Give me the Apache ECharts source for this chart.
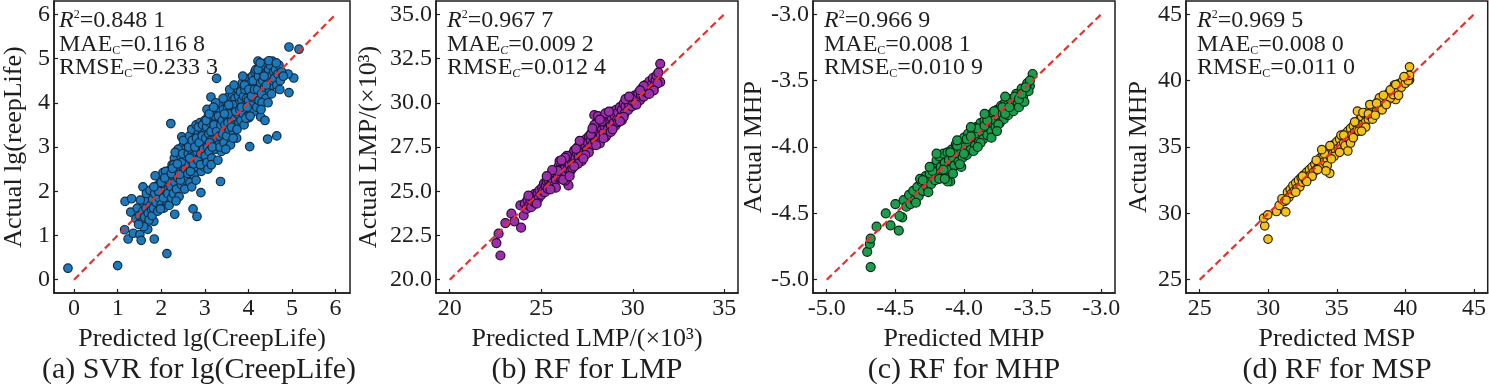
<!DOCTYPE html>
<html><head><meta charset="utf-8">
<script src="https://cdn.jsdelivr.net/npm/echarts@6/dist/echarts.min.js"></script>
<style>html,body{margin:0;padding:0;background:#fff}#c{width:1489px;height:389px}</style>
</head><body><div id="c"></div>
<script>
// ---------- data: [predicted, actual] ----------
const svrCreepLife = [
[-0.14,0.26],[1.0,0.32],[2.13,0.59],[1.17,1.77],[1.32,1.83],[1.30,1.53],[1.58,2.1],[1.16,1.13],[1.24,0.92],[1.36,1.05],[1.51,1.02],[1.54,0.89],[1.84,0.92],[1.69,1.14],[1.83,1.32],[2.31,1.48],[2.73,1.6],[2.82,1.43],[2.91,1.97],[3.36,2.22],[2.22,3.53],[2.47,3.23],[3.14,4.13],[3.27,4.55],[4.03,3.01],[4.44,3.18],[4.65,3.25],[4.93,4.23],[4.93,5.26],[5.16,5.21],[5.04,4.56],[4.91,4.65],[4.22,4.94],[4.55,4.94],[4.38,4.89],[4.28,3.68],[4.38,3.6],[4.01,3.66],[3.97,3.83],[4.25,3.91],
[1.42,1.38],[1.45,1.62],[1.5,1.45],[1.55,1.3],[1.58,1.55],[1.6,1.72],[1.62,1.42],[1.65,1.62],[1.68,1.78],[1.7,1.5],[1.72,1.35],[1.75,1.68],[1.78,1.58],[1.8,1.82],[1.6,1.2],[1.52,1.8],[1.48,1.25],[1.66,1.95],[1.74,2.02],[1.79,1.45],
[1.82,1.62],[1.85,1.95],[1.88,1.75],[1.9,2.12],[1.92,1.55],[1.95,1.85],[1.97,2.3],[2.0,1.7],[2.02,2.0],[2.04,2.42],[2.06,1.62],[2.08,1.9],[2.1,2.2],[2.12,1.78],[2.14,2.35],[2.16,2.05],[2.18,1.68],[2.2,2.48],[1.86,2.35],[1.94,2.0],[2.0,2.2],[2.1,2.45],[2.05,1.85],[2.15,1.95],[2.19,2.25],[1.83,2.1],[1.98,1.6],[2.08,2.3],
[2.22,2.1],[2.24,1.85],[2.25,2.6],[2.27,2.35],[2.28,1.95],[2.3,2.75],[2.31,2.2],[2.33,2.48],[2.35,2.05],[2.36,2.9],[2.38,2.3],[2.4,2.62],[2.41,1.88],[2.43,2.45],[2.45,2.8],[2.46,2.15],[2.48,3.0],[2.5,2.55],[2.52,2.35],[2.53,2.72],[2.55,2.95],[2.57,2.25],[2.58,2.6],[2.6,3.1],[2.23,2.4],[2.29,2.6],[2.34,1.78],[2.39,2.95],[2.44,2.25],[2.47,2.65],[2.51,3.15],[2.54,2.05],[2.56,2.8],[2.59,2.42],[2.26,2.52],[2.32,2.88],[2.37,2.62],[2.42,2.38],[2.49,2.85],[2.55,2.5],
[2.61,2.4],[2.62,2.85],[2.64,2.6],[2.65,3.25],[2.66,2.2],[2.68,2.95],[2.69,2.7],[2.7,3.4],[2.72,2.5],[2.73,3.05],[2.75,2.8],[2.76,2.35],[2.78,3.2],[2.79,2.65],[2.8,3.5],[2.82,2.9],[2.83,2.55],[2.85,3.3],[2.86,3.0],[2.88,2.75],[2.89,3.55],[2.9,3.15],[2.92,2.45],[2.93,2.9],[2.95,3.35],[2.96,2.7],[2.98,3.1],[3.0,3.6],[2.63,3.0],[2.67,2.45],[2.71,3.15],[2.74,2.62],[2.77,3.0],[2.81,3.2],[2.84,2.7],[2.87,3.1],[2.91,2.85],[2.94,3.25],[2.97,2.95],[2.99,2.55],[2.7,2.1],[2.8,2.25],[2.9,2.6],[2.65,2.75],[2.85,3.45],[2.95,3.5],
[3.01,2.8],[3.02,3.2],[3.04,3.45],[3.05,2.65],[3.06,3.0],[3.08,3.7],[3.09,3.3],[3.1,2.9],[3.12,3.55],[3.13,3.15],[3.15,3.85],[3.16,2.75],[3.18,3.4],[3.19,3.65],[3.2,3.05],[3.22,3.75],[3.23,3.3],[3.25,2.95],[3.26,3.6],[3.28,3.9],[3.29,3.2],[3.3,3.5],[3.32,3.05],[3.33,3.8],[3.35,3.4],[3.36,3.65],[3.38,2.9],[3.39,3.95],[3.03,3.6],[3.07,2.5],[3.11,3.1],[3.14,3.35],[3.17,3.0],[3.21,3.5],[3.24,3.7],[3.27,3.35],[3.31,3.7],[3.34,3.25],[3.37,3.5],[3.05,3.85],[3.15,2.6],[3.25,4.0],[3.35,3.0],[3.1,3.75],[3.2,3.9],[3.3,2.7],
[3.4,3.6],[3.41,3.3],[3.43,3.85],[3.44,3.1],[3.46,3.5],[3.47,4.05],[3.49,3.7],[3.5,3.25],[3.52,3.9],[3.53,3.55],[3.55,4.15],[3.56,3.4],[3.58,3.75],[3.59,3.05],[3.6,4.0],[3.62,3.6],[3.63,4.2],[3.65,3.35],[3.66,3.85],[3.68,3.65],[3.69,4.1],[3.7,3.5],[3.72,3.95],[3.73,3.2],[3.75,3.75],[3.76,4.3],[3.78,3.55],[3.79,4.0],[3.42,4.1],[3.48,2.95],[3.54,3.75],[3.57,4.3],[3.61,3.45],[3.64,3.95],[3.67,4.4],[3.71,3.8],[3.74,3.4],[3.77,4.15],[3.45,3.75],[3.65,3.2],[3.55,3.95],
[3.8,3.85],[3.82,4.25],[3.83,3.6],[3.85,4.05],[3.86,4.45],[3.88,3.75],[3.89,4.15],[3.9,3.5],[3.92,4.3],[3.93,3.95],[3.95,4.5],[3.96,4.1],[3.98,3.7],[3.99,4.35],[4.0,4.05],[4.02,4.55],[4.03,3.85],[4.05,4.25],[4.06,4.45],[4.08,3.95],[4.09,4.6],[4.1,4.2],[4.12,3.8],[4.13,4.4],[4.15,4.7],[4.16,4.1],[4.18,4.5],[4.19,3.9],[3.84,3.9],[3.91,4.4],[3.97,3.9],[4.01,4.3],[4.07,4.15],[4.11,4.5],[4.14,4.3],[4.17,4.75],[3.87,4.6],[3.94,3.65],[4.04,3.7],
[4.21,4.3],[4.23,4.6],[4.24,4.05],[4.26,4.8],[4.28,4.45],[4.3,4.2],[4.32,4.7],[4.33,4.5],[4.35,4.85],[4.37,4.35],[4.38,4.65],[4.4,4.1],[4.42,4.9],[4.44,4.55],[4.46,4.75],[4.48,4.3],[4.5,4.85],[4.52,4.6],[4.55,4.4],[4.58,4.7],[4.22,4.75],[4.27,4.9],[4.31,4.0],[4.36,4.6],[4.41,4.4],[4.47,4.95],[4.53,4.2],[4.57,4.5],[4.29,3.85],[4.45,4.0],
[4.6,4.55],[4.62,4.75],[4.65,4.4],[4.68,4.65],[4.7,4.85],[4.73,4.5],[4.76,4.7],[4.8,4.6],[4.64,4.9],[4.72,4.3]
];
const rfLMP = [
[22.55,22.07],[22.67,22.6],[22.77,21.37],[23.04,23.2],[23.37,23.73],[23.53,23.3],[23.9,22.94],[24.04,23.63],[23.86,24.2],[26.49,25.33],[31.5,32.2],[31.5,31.17],[26.3,25.6],[27.9,29.3],
[24.1,24.3],[24.2,24.0],[24.25,24.5],[24.35,24.2],[24.4,24.55],[24.45,24.1],[24.5,24.7],[24.6,24.4],[24.65,24.85],[24.7,24.5],[24.8,24.9],[24.85,24.6],[24.9,25.05],[25.0,24.8],[25.05,25.2],[25.1,25.0],[25.15,25.45],[25.2,24.95],[25.25,25.3],[25.3,25.55],[25.35,25.15],[25.4,25.6],[25.45,25.3],[25.5,25.75],[25.55,25.4],[25.6,25.9],[25.65,25.55],[25.7,25.3],[25.75,26.0],[25.8,25.65],[25.85,26.2],[25.9,25.8],[25.95,26.4],[26.0,25.95],[26.05,26.3],[26.1,25.7],[26.15,26.55],[26.2,26.1],[26.25,26.8],[26.3,26.35],[26.35,26.0],[26.4,26.6],[26.45,26.25],[26.5,26.9],[26.55,26.5],[26.6,26.15],[26.65,26.75],[26.7,27.1],[26.75,26.55],[26.8,27.3],[26.85,26.9],[26.9,26.6],[26.95,27.15],[27.0,27.5],[27.05,26.95],[27.1,27.3],[27.15,27.65],[27.2,27.05],[27.25,27.45],[27.3,27.8],[27.35,27.2],[27.4,27.6],[27.45,27.95],[27.5,27.35],[27.55,27.75],[27.6,28.1],[27.65,27.5],[27.7,27.9],[27.75,28.3],[27.8,27.65],[27.85,28.05],[27.9,28.45],[27.95,27.8],[28.0,28.2],[28.05,28.6],[28.1,27.95],[28.15,28.4],[28.2,28.8],[28.25,28.15],[28.3,28.55],[28.35,28.9],[28.4,28.3],[28.45,28.7],[28.5,28.05],[28.55,28.85],[28.6,29.1],[28.65,28.5],[28.7,28.95],[28.75,29.3],[28.8,28.7],[28.85,29.15],[28.9,29.5],[28.95,28.85],[29.0,29.3],[29.1,29.6],[29.15,29.05],[29.2,29.45],[29.3,29.75],[29.35,29.2],[29.4,29.6],[29.5,29.95],[29.55,29.4],[29.6,29.8],[29.7,30.1],[29.75,29.6],[29.8,29.95],[29.9,30.25],[29.95,29.8],[30.0,30.1],[30.1,30.4],[30.15,29.95],[30.2,30.3],[30.3,30.55],[30.4,30.15],[30.45,30.45],[30.5,30.8],[30.6,30.35],[30.65,30.65],[30.7,31.0],[30.8,30.55],[30.85,30.85],[30.9,31.2],[31.0,30.8],[31.05,31.05],[31.1,31.4],[31.2,31.0],[31.25,31.25],[31.3,31.55],[31.35,31.1],[31.4,31.7],
[25.8,25.2],[26.2,25.65],[26.0,26.7],[26.4,27.0],[27.2,26.7],[27.6,27.2],[27.0,26.55],[27.9,28.75],[28.2,27.7],[28.6,28.2],[28.1,29.25],[29.05,28.7],[29.4,29.0],[28.5,29.4],[29.6,30.2],[30.2,29.9],[30.6,30.95],[25.5,25.1],[24.75,24.3],[24.3,24.75],[26.7,26.3],[27.4,27.05],[28.8,28.35],[29.2,28.9],[29.8,30.35],[30.4,30.7],[31.15,30.7],[30.9,30.5],[26.9,27.4],[27.7,28.2],[28.3,28.95],[28.0,27.6],[28.9,28.5],[29.5,29.2],[25.9,26.15],[26.3,26.9],
[25.6,26.2],[26.1,26.75],[26.55,25.85],[27.3,26.85],[27.1,27.85],[28.4,28.0],[28.7,29.5],[29.3,28.95],[28.2,29.05],[26.8,26.4],[25.3,25.85],[27.8,28.55]
];
const rfMHP = [
[-4.68,-4.905],[-4.705,-4.79],[-4.686,-4.73],[-4.68,-4.69],[-4.637,-4.6],[-4.57,-4.5],[-4.535,-4.59],[-4.5,-4.43],[-4.475,-4.63],[-4.45,-4.53],[-4.47,-4.52],[-3.5,-3.45],[-3.52,-3.54],[-4.1,-4.26],
[-4.44,-4.4],[-4.42,-4.45],[-4.4,-4.36],[-4.39,-4.43],[-4.37,-4.33],[-4.36,-4.4],[-4.34,-4.3],[-4.33,-4.37],[-4.31,-4.26],[-4.3,-4.33],[-4.28,-4.22],[-4.27,-4.3],[-4.25,-4.2],[-4.24,-4.28],[-4.22,-4.15],[-4.21,-4.25],[-4.2,-4.1],[-4.19,-4.2],[-4.18,-4.07],[-4.17,-4.15],[-4.16,-4.22],[-4.15,-4.05],[-4.14,-4.12],[-4.13,-4.2],[-4.12,-4.04],[-4.11,-4.1],[-4.1,-4.17],[-4.09,-4.02],[-4.08,-4.08],[-4.07,-4.14],[-4.06,-3.98],[-4.05,-4.05],[-4.04,-4.11],[-4.03,-3.96],[-4.02,-4.02],[-4.01,-4.08],[-4.0,-3.93],[-3.99,-4.0],[-3.98,-4.06],[-3.97,-3.9],[-3.96,-3.97],[-3.95,-4.02],[-3.94,-3.88],[-3.93,-3.94],[-3.92,-3.99],[-3.91,-3.85],[-3.9,-3.92],[-3.89,-3.96],[-3.88,-3.82],[-3.87,-3.89],[-3.86,-3.94],[-3.85,-3.8],[-3.84,-3.86],[-3.83,-3.91],[-3.82,-3.76],[-3.81,-3.83],[-3.8,-3.88],[-3.79,-3.74],[-3.78,-3.8],[-3.77,-3.85],[-3.76,-3.72],[-3.75,-3.77],[-3.74,-3.82],[-3.73,-3.69],[-3.72,-3.75],[-3.71,-3.79],[-3.7,-3.66],[-3.69,-3.72],[-3.68,-3.76],[-3.66,-3.64],[-3.65,-3.69],[-3.64,-3.73],[-3.62,-3.6],[-3.61,-3.66],[-3.6,-3.7],[-3.58,-3.56],[-3.57,-3.62],[-3.56,-3.66],[-3.54,-3.52],[-3.53,-3.58],[-3.52,-3.5],
[-4.35,-4.42],[-4.32,-4.24],[-4.26,-4.34],[-4.23,-4.18],[-4.18,-4.24],[-4.15,-4.17],[-4.12,-4.26],[-4.1,-4.04],[-4.08,-4.2],[-4.05,-3.99],[-4.02,-4.15],[-4.0,-4.05],[-3.98,-3.94],[-3.95,-3.92],[-3.93,-4.03],[-3.9,-3.86],[-3.88,-3.97],[-3.85,-3.84],[-3.83,-3.8],[-3.8,-3.93],[-3.78,-3.73],[-3.75,-3.83],[-3.72,-3.7],[-3.7,-3.75],[-3.67,-3.7],[-3.63,-3.62],[-3.6,-3.64],[-3.58,-3.6],[-3.55,-3.55],[-3.85,-3.75],[-3.95,-3.85],[-4.05,-3.95],[-4.2,-4.05],[-4.25,-4.15],[-4.3,-4.25],[-3.7,-3.62],[-3.76,-3.88],[-3.9,-4.0],[-4.14,-4.24],[-4.03,-4.13]
];
const rfMSP = [
[29.98,28.06],[29.74,29.06],[29.66,29.64],[29.96,29.89],[30.6,30.14],[31.27,30.11],[34.48,33.02],[40.3,41.04],[40.3,40.04],[39.29,38.58],[39.2,39.67],
[30.8,30.6],[31.0,31.1],[31.2,30.9],[31.4,31.6],[31.5,31.2],[31.6,31.8],[31.7,31.5],[31.8,32.1],[31.9,31.7],[32.0,32.3],[32.1,31.9],[32.2,32.5],[32.3,32.0],[32.4,32.7],[32.5,32.35],[32.6,32.9],[32.7,32.5],[32.8,33.1],[32.9,32.7],[33.0,33.3],[33.1,32.9],[33.2,33.5],[33.3,33.1],[33.4,33.7],[33.5,33.3],[33.6,33.9],[33.7,33.5],[33.8,34.2],[33.9,33.7],[34.0,34.4],[34.1,33.9],[34.2,34.6],[34.3,34.1],[34.4,34.8],[34.5,34.3],[34.6,34.95],[34.7,34.5],[34.8,35.2],[34.9,34.7],[35.0,35.4],[35.1,34.9],[35.2,35.6],[35.3,35.1],[35.4,35.8],[35.5,35.3],[35.6,36.0],[35.7,35.5],[35.8,36.2],[35.9,35.7],[36.0,36.4],[36.1,35.9],[36.2,36.6],[36.3,36.1],[36.4,36.8],[36.5,36.3],[36.6,37.0],[36.7,36.5],[36.8,37.3],[36.9,36.7],[37.0,37.5],[37.1,36.9],[37.2,37.6],[37.3,37.1],[37.4,37.8],[37.5,37.3],[37.6,38.0],[37.7,37.5],[37.8,38.2],[37.9,37.7],[38.0,38.4],[38.1,37.9],[38.2,38.6],[38.3,38.1],[38.4,38.7],[38.5,38.3],[38.6,38.9],[38.7,38.5],[38.8,39.1],[38.9,38.7],[39.0,39.3],[39.1,38.95],[39.2,39.5],[39.4,39.2],[39.5,39.75],[39.7,39.5],[39.8,40.0],[40.0,39.8],[40.1,40.2],[40.2,40.0],[40.3,40.4],
[31.3,31.0],[32.0,31.6],[32.5,32.8],[33.2,32.8],[33.5,34.0],[34.1,34.5],[34.3,33.6],[34.2,33.2],[34.8,34.3],[35.3,35.9],[35.6,35.1],[35.8,34.7],[36.0,35.3],[36.3,36.9],[36.5,37.7],[36.2,35.7],[36.9,37.6],[37.1,36.5],[37.4,38.2],[37.6,37.1],[38.1,38.7],[38.3,37.8],[38.6,38.2],[38.9,39.3],[39.3,39.7],[39.5,38.9],[39.9,40.3],[33.9,34.8],[34.5,35.1],[35.2,34.6],[35.5,35.9],[36.6,36.2],[37.3,37.5],[37.8,37.4],[38.4,38.9],[32.8,32.4],[33.6,33.3],[34.6,34.1],[36.8,36.2],[37.9,38.3]
];
// reference (identity) lines
const diagA = [0, 6], diagB = [20, 35], diagC = [-5, -3], diagD = [25, 45];
// tick labels
const ticksA = [0, 1, 2, 3, 4, 5, 6];
const ticksB = [20, 25, 30, 35];
const ticksBy = [20, 22.5, 25, 27.5, 30, 32.5, 35];
const ticksC = [-5, -4.5, -4, -3.5, -3];
const ticksD = [25, 30, 35, 40, 45];
const metrics = [
  ['0.848 1', '0.116 8', '0.233 3'],
  ['0.967 7', '0.009 2', '0.012 4'],
  ['0.966 9', '0.008 1', '0.010 9'],
  ['0.969 5', '0.008 0', '0.011 0']
];
const titles = ['(a) SVR for lg(CreepLife)', '(b) RF for LMP', '(c) RF for MHP', '(d) RF for MSP'];
const xNames = ['Predicted lg(CreepLife)', 'Predicted LMP/(×10³)', 'Predicted MHP', 'Predicted MSP'];
const yNames = ['Actual lg(reepLife)', 'Actual LMP/(×10³)', 'Actual MHP', 'Actual MHP'];

// ---------- layout / style ----------
const F = "'Liberation Serif','Times New Roman',serif";
const INK = '#1e1e1e';
const gridsPx = [48, 436, 813, 1186];
const GW = 302, GTOP = 1, GH = 292;
const ranges = [
  {x: [-0.46, 6.33], y: [-0.3, 6.3]},
  {x: [19.25, 35.75], y: [19.25, 35.75]},
  {x: [-5.1, -2.9], y: [-5.1, -2.9]},
  {x: [24, 46], y: [24, 46]}
];
const xt = [ticksA, ticksB, ticksC, ticksD];
const yt = [ticksA, ticksBy, ticksC, ticksD];
const fmtX = [v => String(v), v => String(v), v => v.toFixed(1), v => String(v)];
const fmtY = [v => String(v), v => v.toFixed(1), v => v.toFixed(1), v => String(v)];
const yGap = [27, 54, 45, 34];
const fill = ['#1f78b8', '#9a2fa8', '#1e9c4e', '#f3c21f'];
const edge = ['#0f2d48', '#2a0836', '#062a12', '#2e2200'];
const msize = [8.5, 9, 9, 8.5];
const sets = [svrCreepLife, rfLMP, rfMHP, rfMSP];
const diags = [diagA, diagB, diagC, diagD];

const grid = [], xAxis = [], yAxis = [], series = [], graphic = [];
for (let i = 0; i < 4; i++) {
  grid.push({left: gridsPx[i], top: GTOP, width: GW, height: GH, show: true,
    borderColor: INK, borderWidth: 1.5, backgroundColor: 'transparent'});
  const common = (ticks, fmt) => ({
    axisLine: {show: true, onZero: false, lineStyle: {color: INK, width: 1.5}},
    axisTick: {show: true, inside: true, length: 4, customValues: ticks, lineStyle: {color: INK, width: 1.2}},
    axisLabel: {customValues: ticks, formatter: fmt, fontFamily: F, fontSize: 24, color: INK},
    splitLine: {show: false}
  });
  const cx = common(xt[i], fmtX[i]);
  cx.axisLabel.margin = 4;
  xAxis.push(Object.assign({gridIndex: i, type: 'value', min: ranges[i].x[0], max: ranges[i].x[1],
    name: xNames[i], nameLocation: 'middle', nameGap: 27,
    nameTextStyle: {fontFamily: F, fontSize: 26, color: INK}}, cx));
  const cy = common(yt[i], fmtY[i]);
  cy.axisLabel.margin = 4;
  yAxis.push(Object.assign({gridIndex: i, type: 'value', min: ranges[i].y[0], max: ranges[i].y[1],
    name: yNames[i], nameLocation: 'middle', nameGap: yGap[i], nameRotate: 90,
    nameTextStyle: {fontFamily: F, fontSize: 26, color: INK}}, cy));
  series.push({type: 'scatter', xAxisIndex: i, yAxisIndex: i, data: sets[i], symbolSize: msize[i], z: 2,
    itemStyle: {color: fill[i], borderColor: edge[i], borderWidth: 1.2, opacity: 1}});
  series.push({type: 'line', xAxisIndex: i, yAxisIndex: i, data: [[diags[i][0], diags[i][0]], [diags[i][1], diags[i][1]]],
    symbol: 'none', z: 5, lineStyle: {color: '#e5322d', width: 2.2, type: [7, 4]}});
  const tx = gridsPx[i] + 11;
  const subStyle = i === 1 ? 'subi' : 'sub';
  const rich = {
    n: {fontFamily: F, fontSize: 24, fill: INK, lineHeight: 24},
    i: {fontFamily: F, fontSize: 24, fontStyle: 'italic', fill: INK, lineHeight: 24},
    sup: {fontFamily: F, fontSize: 12, fill: INK, lineHeight: 24, verticalAlign: 'top', padding: [0, 0, 10, 0]},
    sub: {fontFamily: F, fontSize: 12, fill: INK, lineHeight: 24, verticalAlign: 'bottom', padding: [6, 0, 0, 0]},
    subi: {fontFamily: F, fontSize: 12, fontStyle: 'italic', fill: INK, lineHeight: 24, verticalAlign: 'bottom', padding: [6, 0, 0, 0]}
  };
  const lines = [
    '{i|R}{sup|2}{n|=' + metrics[i][0] + '}',
    '{n|MAE}{' + subStyle + '|C}{n|=' + metrics[i][1] + '}',
    '{n|RMSE}{' + subStyle + '|C}{n|=' + metrics[i][2] + '}'
  ];
  [21, 45, 68].forEach((yy, k) => {
    graphic.push({type: 'text', x: tx, y: yy, z: 10,
      style: {text: lines[k], rich: rich, verticalAlign: 'middle', align: 'left', fontFamily: F, fontSize: 24, fill: INK}});
  });
  graphic.push({type: 'text', x: gridsPx[i] + GW / 2, y: 370, z: 10,
    style: {text: titles[i], align: 'center', verticalAlign: 'middle', fontFamily: F, fontSize: 30, fill: INK}});
}

const chart = echarts.init(document.getElementById('c'), null, {renderer: 'canvas'});
chart.setOption({animation: false, backgroundColor: '#fff', grid, xAxis, yAxis, series, graphic});
</script></body></html>
